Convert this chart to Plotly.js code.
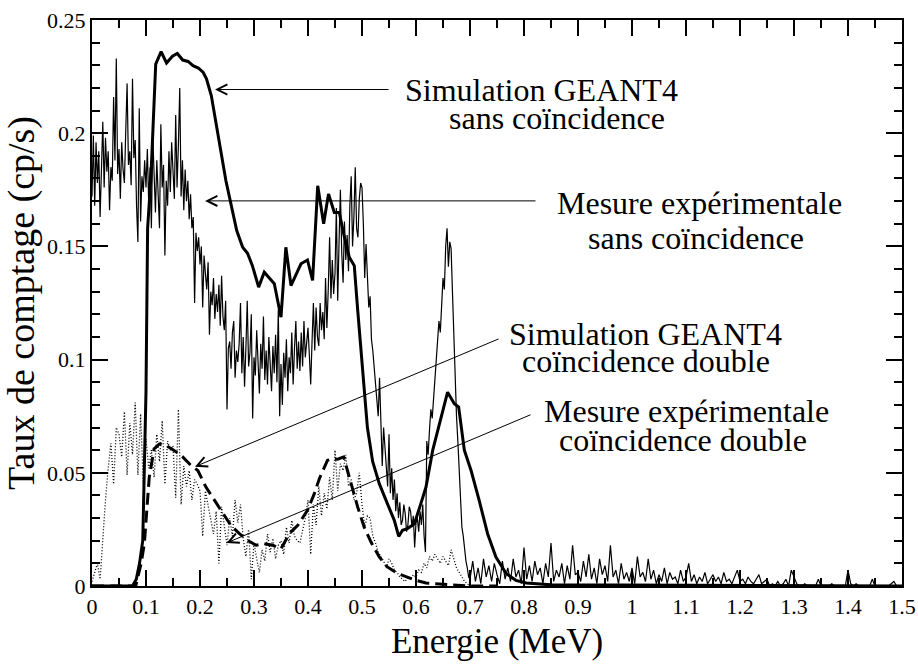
<!DOCTYPE html>
<html><head><meta charset="utf-8">
<script src="https://cdn.plot.ly/plotly-3.0.1.min.js"></script>
<style>
html,body{margin:0;padding:0;background:#fff;}
#chart{width:918px;height:666px}
</style>
</head><body>
<div id="chart"></div>
<script>
// ---- Simulation GEANT4, sans coïncidence (thick solid) ----
const simSansX = [0,0.075,0.082,0.088,0.094,0.097,0.100,0.103,0.109,0.118,0.128,0.138,0.149,0.158,0.168,0.178,0.187,0.197,0.206,0.212,0.221,0.248,0.257,0.268,0.279,0.288,0.297,0.3086,0.319,0.3376,0.350,0.359,0.3685,0.387,0.399,0.4085,0.418,0.429,0.438,0.4487,0.458,0.467,0.4765,0.4857,0.492,0.498,0.504,0.510,0.5197,0.532,0.547,0.5598,0.568,0.575,0.584,0.597,0.609,0.6185,0.631,0.643,0.6585,0.671,0.679,0.6895,0.702,0.717,0.7326,0.748,0.767,0.785,0.804,0.85,1.5];
const simSansY = [0,0,0.003,0.010,0.020,0.057,0.086,0.158,0.180,0.2305,0.236,0.231,0.234,0.2352,0.2323,0.2317,0.2298,0.2288,0.2268,0.224,0.2165,0.179,0.1688,0.157,0.1496,0.147,0.1415,0.132,0.1386,0.1335,0.1187,0.1496,0.1327,0.1423,0.144,0.135,0.1768,0.160,0.1732,0.165,0.165,0.1545,0.1452,0.1415,0.122,0.104,0.085,0.070,0.055,0.0452,0.0364,0.029,0.0219,0.0246,0.0253,0.0275,0.0364,0.0437,0.060,0.0717,0.0856,0.0805,0.079,0.060,0.051,0.0378,0.0231,0.0128,0.0055,0.0025,0.0013,0.0005,0];

// ---- Mesure expérimentale, sans coïncidence (thin solid), channels of 0.0025 MeV from 0 ----
const expSansStep = 0.0025;
const expSansY = [
0.172,0.199,0.168,0.196,0.178,0.192,0.163,0.188,0.205,0.176,0.198,0.183,0.192,0.166,0.185,0.179,0.216,0.188,0.233,0.182,
0.193,0.171,0.196,0.184,0.178,0.201,0.222,0.186,0.192,0.177,0.224,0.189,0.197,0.168,0.152,0.211,0.161,0.181,0.174,0.188,
0.176,0.193,0.169,0.185,0.158,0.199,0.178,0.165,0.188,0.172,0.158,0.204,0.176,0.186,0.146,0.179,0.168,0.192,0.174,0.196,
0.183,0.171,0.208,0.176,0.195,0.220,0.172,0.188,0.166,0.184,0.170,0.179,0.162,0.173,0.158,0.163,0.125,0.156,0.148,0.154,
0.142,0.150,0.123,0.146,0.138,0.131,0.143,0.111,0.130,0.124,0.136,0.118,0.129,0.121,0.133,0.115,0.137,0.119,0.113,0.126,
0.078,0.105,0.108,0.096,0.112,0.117,0.092,0.104,0.099,0.107,0.125,0.094,0.110,0.088,0.105,0.126,0.097,0.103,0.120,0.074,
0.101,0.093,0.113,0.098,0.085,0.107,0.096,0.119,0.091,0.104,0.089,0.110,0.097,0.086,0.106,0.094,0.111,0.090,0.122,0.075,
0.098,0.080,0.103,0.092,0.109,0.086,0.101,0.094,0.112,0.089,0.105,0.117,0.096,0.108,0.095,0.112,0.097,0.117,0.101,0.109,
0.114,0.102,0.089,0.108,0.125,0.104,0.123,0.110,0.106,0.125,0.113,0.121,0.109,0.136,0.114,0.131,0.154,0.127,0.144,0.129,
0.138,0.167,0.126,0.152,0.175,0.147,0.134,0.161,0.144,0.155,0.139,0.168,0.181,0.150,0.163,0.185,0.158,0.154,0.171,0.178,
0.176,0.160,0.136,0.151,0.134,0.123,0.128,0.109,0.104,0.097,0.091,0.082,0.075,0.092,0.066,0.053,0.070,0.061,0.048,0.044,
0.067,0.041,0.052,0.038,0.047,0.033,0.041,0.030,0.037,0.027,0.029,0.036,0.032,0.024,0.027,0.035,0.033,0.026,0.031,0.017,
0.028,0.030,0.024,0.033,0.027,0.036,0.022,0.015,0.064,0.058,0.069,0.078,0.074,0.082,0.091,0.098,0.108,0.117,0.112,0.128,
0.136,0.131,0.150,0.158,0.141,0.152,0.149,0.130,0.110,0.088,0.075,0.064,0.052,0.038,0.026,0.022,0.015,0.011,0.008,0.004
];
// tail of the same measurement, channels of 0.005 MeV from 0.70 to 1.50
const expTailStart = 0.70, expTailStep = 0.005;
const expTailY = [
0.003,0.011,0.002,0.008,0.001,0.012,0.004,0.009,0.002,0.010,
0.005,0.001,0.011,0.003,0.008,0.002,0.012,0.004,0.007,0.001,
0.017,0.003,0.009,0.002,0.011,0.005,0.008,0.001,0.010,0.004,
0.019,0.002,0.007,0.004,0.010,0.001,0.009,0.003,0.018,0.005,
0.006,0.002,0.011,0.004,0.014,0.003,0.008,0.001,0.012,0.005,
0.009,0.002,0.018,0.004,0.007,0.001,0.010,0.003,0.006,0.002,
0.008,0.001,0.013,0.004,0.006,0.002,0.012,0.003,0.007,0.001,
0.005,0.002,0.008,0.001,0.006,0.003,0.004,0.001,0.007,0.002,
0.004,0.010,0.002,0.005,0.001,0.004,0.002,0.006,0.001,0.003,
0.005,0.002,0.004,0.001,0.006,0.002,0.003,0.001,0.004,0.007,
0.002,0.003,0.001,0.004,0.002,0.001,0.003,0.005,0.001,0.002,
0.003,0.000,0.001,0.000,0.002,0.000,0.001,0.003,0.000,0.007,
0.004,0.001,0.000,0.000,0.001,0.000,0.000,0.000,0.000,0.003,
0.000,0.000,0.000,0.000,0.001,0.000,0.000,0.000,0.000,0.000,
0.007,0.001,0.000,0.001,0.000,0.000,0.000,0.000,0.000,0.003,
0.000,0.000,0.000,0.000,0.000,0.000,0.001,0.002,0.000,0.000,
0.000
];

// ---- Simulation GEANT4, coïncidence double (thick dashed) ----
const simCoincX = [0,0.081,0.091,0.097,0.106,0.115,0.125,0.138,0.152,0.168,0.183,0.196,0.211,0.2265,0.242,0.257,0.273,0.288,0.304,0.319,0.3345,0.350,0.3654,0.381,0.399,0.4117,0.421,0.436,0.4426,0.455,0.466,0.473,0.4826,0.492,0.504,0.5167,0.532,0.547,0.566,0.5815,0.600,0.6185,0.643,0.667,0.70,0.75];
const simCoincY = [0,0,0.010,0.0188,0.048,0.0606,0.0628,0.062,0.0599,0.057,0.0533,0.051,0.0437,0.0378,0.032,0.0268,0.0231,0.0202,0.018,0.0187,0.018,0.0165,0.0231,0.0268,0.0334,0.0408,0.0474,0.0555,0.0562,0.056,0.057,0.051,0.0422,0.0349,0.026,0.0194,0.0128,0.0084,0.0055,0.004,0.0025,0.0013,0.0008,0.0005,0,0];

// ---- Mesure expérimentale, coïncidence double (dotted), channels of 0.005 MeV from 0 ----
const expCoincStep = 0.005;
const expCoincY = [
0.002,0.006,0.010,0.003,0.023,0.038,0.052,0.063,0.045,0.070,
0.067,0.057,0.077,0.049,0.072,0.058,0.081,0.049,0.076,0.045,
0.065,0.052,0.060,0.048,0.067,0.055,0.073,0.045,0.064,0.060,
0.062,0.039,0.078,0.036,0.053,0.044,0.051,0.038,0.047,0.045,
0.042,0.022,0.042,0.036,0.030,0.023,0.033,0.010,0.035,0.026,
0.018,0.030,0.022,0.038,0.028,0.036,0.021,0.013,0.025,0.003,
0.019,0.012,0.006,0.016,0.011,0.023,0.015,0.021,0.012,0.018,
0.020,0.014,0.026,0.019,0.029,0.022,0.020,0.019,0.025,0.030,
0.038,0.014,0.036,0.027,0.044,0.031,0.041,0.034,0.048,0.038,
0.060,0.042,0.054,0.051,0.058,0.044,0.047,0.038,0.041,0.050,
0.036,0.026,0.031,0.030,0.022,0.019,0.015,0.013,0.011,0.008,
0.012,0.010,0.007,0.006,0.004,0.003,0.002,0.004,0.003,0.005,
0.004,0.007,0.006,0.010,0.008,0.013,0.011,0.014,0.012,0.010,
0.013,0.011,0.009,0.016,0.012,0.008,0.006,0.004,0.002,0.001,
0.000
];

// ---- axis ticks ----
const xTickVals = [0,0.1,0.2,0.3,0.4,0.5,0.6,0.7,0.8,0.9,1,1.1,1.2,1.3,1.4,1.5];
const xTickText = ["0","0.1","0.2","0.3","0.4","0.5","0.6","0.7","0.8","0.9","1","1.1","1.2","1.3","1.4","1.5"];
const yTickVals = [0,0.05,0.1,0.15,0.2,0.25];
const yTickText = ["0","0.05","0.1","0.15","0.2","0.25"];

// ---- labels ----
const labelLines = ["Simulation GEANT4","sans coïncidence","Mesure expérimentale","sans coïncidence",
                    "Simulation GEANT4","coïncidence double","Mesure expérimentale","coïncidence double"];

const FONT = "Liberation Serif";

// build channel x arrays
const expSansX = [], expSansYAll = [];
for (let i = 0; i < expSansY.length; i++) { expSansX.push(+(i*expSansStep).toFixed(4)); expSansYAll.push(expSansY[i]); }
for (let i = 0; i < expTailY.length; i++) { expSansX.push(+(expTailStart + i*expTailStep).toFixed(4)); expSansYAll.push(expTailY[i]); }
const expCoincX = expCoincY.map((_, i) => +(i*expCoincStep).toFixed(4));

const traces = [
  {x: expCoincX, y: expCoincY, mode:'lines', line:{color:'#000', width:1.3, dash:'1px,2px'}, hoverinfo:'skip'},
  {x: simCoincX, y: simCoincY, mode:'lines', line:{color:'#000', width:3, dash:'12px,6px'}, hoverinfo:'skip'},
  {x: expSansX, y: expSansYAll, mode:'lines', line:{color:'#000', width:1.2}, hoverinfo:'skip'},
  {x: simSansX, y: simSansY, mode:'lines', line:{color:'#000', width:3}, hoverinfo:'skip'}
];

// text positions (data units) and arrows (tip -> tail)
const textPos = [[0.8315,0.2193],[0.8611,0.2065],[1.1241,0.1690],[1.1185,0.1536],[1.025,0.1112],[1.025,0.0993],[1.10,0.0772],[1.0944,0.0644]];
const arrows = [
  {tip:[0.2278,0.2193], tail:[0.5519,0.2193]},
  {tip:[0.2093,0.1701], tail:[0.8241,0.1701]},
  {tip:[0.1907,0.0527], tail:[0.7556,0.1094]},
  {tip:[0.2491,0.0190], tail:[0.8148,0.0759]}
];

const annotations = [];
labelLines.forEach((t, i) => annotations.push({
  x: textPos[i][0], y: textPos[i][1], xref:'x', yref:'y', text: t, showarrow:false,
  xanchor:'center', yanchor:'middle', font:{family:FONT, size:32, color:'#000'}
}));
arrows.forEach(a => annotations.push({
  x: a.tip[0], y: a.tip[1], ax: a.tail[0], ay: a.tail[1], xref:'x', yref:'y', axref:'x', ayref:'y',
  text:'', showarrow:true, arrowhead:5, arrowsize:2, arrowwidth:1, arrowcolor:'#000', standoff:0, startstandoff:0
}));

const axisCommon = {
  showline:true, linewidth:2, linecolor:'#000', mirror:'allticks', showgrid:false, zeroline:false,
  ticks:'inside', ticklen:16, tickwidth:2, tickcolor:'#000', tickfont:{family:FONT, size:22, color:'#000'}
};

const layout = {
  width:918, height:666,
  margin:{l:92, r:16, t:20, b:80},
  paper_bgcolor:'#fff', plot_bgcolor:'#fff',
  showlegend:false, hovermode:false,
  font:{family:FONT, color:'#000'},
  xaxis: Object.assign({}, axisCommon, {
    range:[0,1.5], tickmode:'array', tickvals:xTickVals, ticktext:xTickText,
    minor:{tickmode:'linear', tick0:0, dtick:0.05, ticks:'inside', ticklen:8, tickwidth:2, tickcolor:'#000', showgrid:false},
    title:{text:'Energie (MeV)', font:{family:FONT, size:35, color:'#000'}, standoff:10}
  }),
  yaxis: Object.assign({}, axisCommon, {
    range:[0,0.25], tickmode:'array', tickvals:yTickVals, ticktext:yTickText,
    minor:{tickmode:'linear', tick0:0, dtick:0.01, ticks:'inside', ticklen:8, tickwidth:2, tickcolor:'#000', showgrid:false},
    title:{text:'Taux de comptage (cp/s)', font:{family:FONT, size:38, color:'#000'}, standoff:10}
  }),
  annotations: annotations
};

Plotly.newPlot('chart', traces, layout, {staticPlot:true, displayModeBar:false});
</script>
</body></html>
